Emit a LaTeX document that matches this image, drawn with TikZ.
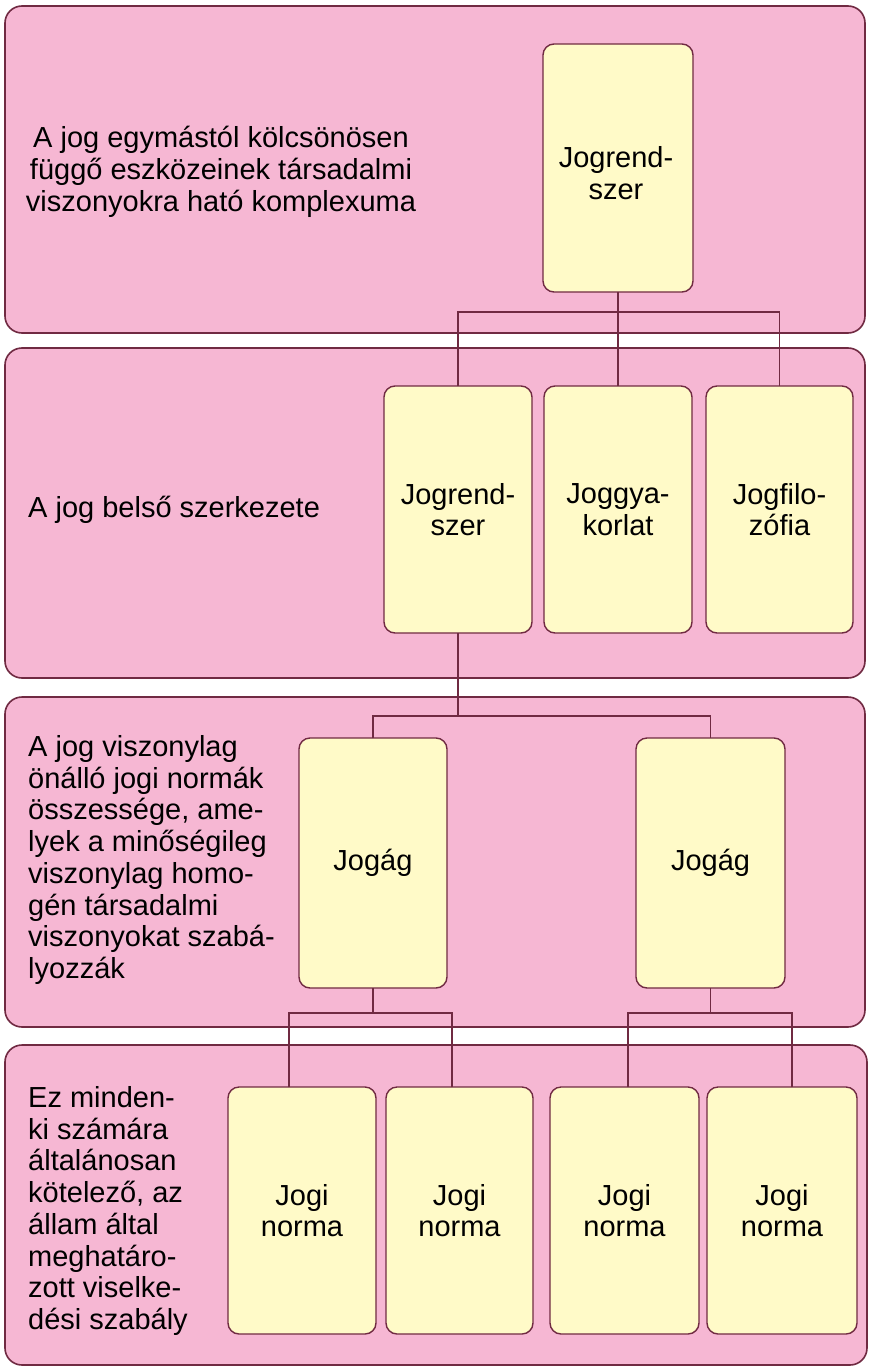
\documentclass[tikz,border=0pt]{standalone}
\usepackage{fontspec}
\setmainfont{Liberation Sans}
\usetikzlibrary{calc}
\definecolor{bandpink}{RGB}{246,183,211}
\definecolor{boxyellow}{RGB}{255,250,200}
\definecolor{edgemaroon}{RGB}{112,42,66}
\tikzset{
  band/.style={draw=edgemaroon, line width=1.6pt, fill=bandpink, rounded corners=17pt},
  itembox/.style={draw=edgemaroon, line width=1.4pt, fill=boxyellow, rounded corners=11pt},
  boxlabel/.style={font=\fontsize{29}{31.7}\selectfont, align=center, inner sep=0pt, text=black},
  bandtext/.style={font=\fontsize{29}{31.7}\selectfont, inner sep=0pt, text=black},
  link/.style={draw=edgemaroon, line width=1.3pt}
}
\begin{document}
\begin{tikzpicture}[x=1pt,y=-1pt]
\useasboundingbox (0,0) rectangle (870,1367);
\fill[white] (0,0) rectangle (870,1367);
% bands
\draw[band] (5,6) rectangle (865,333);
\draw[band] (5,348) rectangle (865,678);
\draw[band] (5,697) rectangle (865,1027);
\draw[band] (5,1045) rectangle (867,1365);
% band texts
\node[bandtext, align=center] (t1) at (221,172) {A jog egymástól kölcsönösen\\függő eszközeinek társadalmi\\viszonyokra ható komplexuma};
\node[bandtext, anchor=west] (t2) at (28,510) {A jog belső szerkezete};
\node[bandtext, align=left, anchor=west] (t3) at (28,860) {A jog viszonylag\\önálló jogi normák\\összessége, ame-\\lyek a minőségileg\\viszonylag homo-\\gén társadalmi\\viszonyokat szabá-\\lyozzák};
\node[bandtext, align=left, anchor=west] (t4) at (28,1211) {Ez minden-\\ki számára\\általánosan\\kötelező, az\\állam által\\meghatáro-\\zott viselke-\\dési szabály};
% boxes
\draw[itembox] (543,44) rectangle (693,292);
\node[boxlabel] (T) at (616,173) {Jogrend-\\szer};
\draw[itembox] (384,386) rectangle (532,633) node[boxlabel, midway] (R1) {Jogrend-\\szer};
\draw[itembox] (544,386) rectangle (692,633) node[boxlabel, midway] (R2) {Joggya-\\korlat};
\draw[itembox] (706,386) rectangle (853,633) node[boxlabel, midway] (R3) {Jogfilo-\\zófia};
\draw[itembox] (299,738) rectangle (447,988) node[boxlabel, midway] (J1) {Jogág};
\draw[itembox] (636,738) rectangle (785,988) node[boxlabel, midway] (J2) {Jogág};
\draw[itembox] (228,1087) rectangle (376,1334) node[boxlabel, midway] (N1) {Jogi\\norma};
\draw[itembox] (386,1087) rectangle (533,1334) node[boxlabel, midway] (N2) {Jogi\\norma};
\draw[itembox] (550,1087) rectangle (699,1334) node[boxlabel, midway] (N3) {Jogi\\norma};
\draw[itembox] (707,1087) rectangle (857,1334) node[boxlabel, midway] (N4) {Jogi\\norma};
% anchor coordinates on box edges
\coordinate (Tb) at (618,292);
\coordinate (R1t) at (458,386); \coordinate (R2t) at (618,386); \coordinate (R3t) at (779.5,386);
\coordinate (R1b) at (458,633);
\coordinate (J1t) at (373,738); \coordinate (J2t) at (710.5,738);
\coordinate (J1b) at (373,988); \coordinate (J2b) at (710.5,988);
\coordinate (N1t) at (289,1087); \coordinate (N2t) at (452,1087);
\coordinate (N3t) at (628,1087); \coordinate (N4t) at (792,1087);
% connectors
\draw[link] (Tb) -- (Tb |- 0,312);
\draw[link] (R1t) |- (R3t |- 0,312) -- (R3t);
\draw[link] (R2t) -- (R2t |- 0,312);
\draw[link] (R1b) -- (R1b |- 0,716);
\draw[link] (J1t) |- (J2t |- 0,716) -- (J2t);
\draw[link] (J1b) -- (J1b |- 0,1013);
\draw[link] (N1t) |- (N2t |- 0,1013) -- (N2t);
\draw[link] (J2b) -- (J2b |- 0,1013);
\draw[link] (N3t) |- (N4t |- 0,1013) -- (N4t);
\end{tikzpicture}
\end{document}
